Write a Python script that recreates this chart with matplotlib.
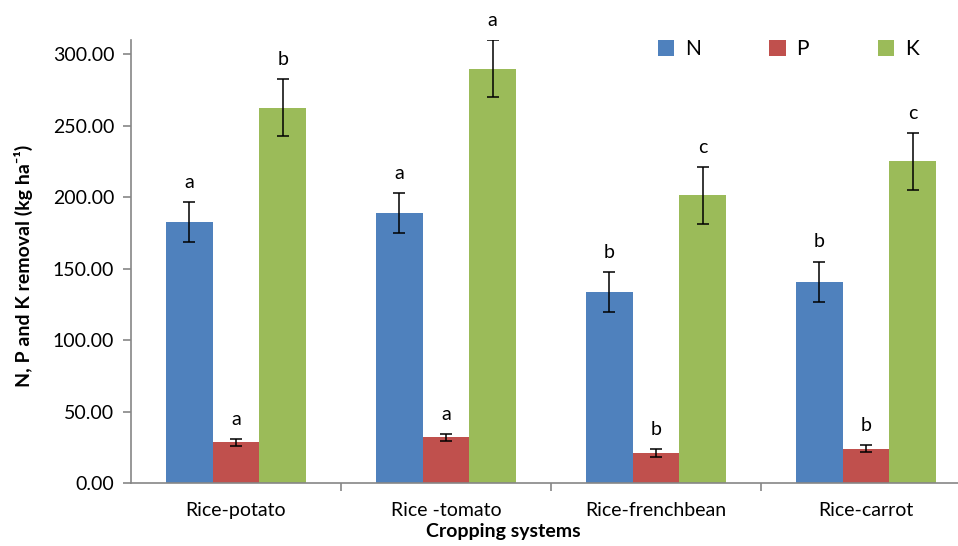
import matplotlib.pyplot as plt
import numpy as np

plt.rcParams['font.family'] = ['Lato', 'DejaVu Sans']

# ---------------- Data ----------------
systems = ["Rice-potato", "Rice -tomato", "Rice-frenchbean", "Rice-carrot"]
n_vals = [182.7, 189.0, 133.5, 141.0]
p_vals = [28.5, 32.0, 21.0, 24.0]
k_vals = [262.7, 290.0, 201.4, 225.0]
n_err = [14, 14, 14, 14]
p_err = [2.5, 2.5, 2.5, 2.5]
k_err = [20, 20, 20, 20]
n_letters = ["a", "a", "b", "b"]
p_letters = ["a", "a", "b", "b"]
k_letters = ["b", "a", "c", "c"]

series = [
    ("N", n_vals, n_err, n_letters, "#4F81BD"),
    ("P", p_vals, p_err, p_letters, "#C0504D"),
    ("K", k_vals, k_err, k_letters, "#9BBB59"),
]

# ---------------- Plot ----------------
fig = plt.figure(figsize=(9.58, 5.46), dpi=100)
ax = fig.add_axes([131 / 958, 1 - 483 / 546, 827 / 958, 443 / 546])

x = np.arange(len(systems))
width = 2 / 9  # gap width 50%
axis_grey = "#868686"

for i, (name, vals, errs, letters, color) in enumerate(series):
    pos = x + (i - 1) * width
    ax.bar(pos, vals, width, color=color, label=name, zorder=2)
    ax.errorbar(pos, vals, yerr=errs, fmt="none", ecolor="black",
                elinewidth=1.1, capsize=4, capthick=1.1, zorder=3)
    for px, v, e, t in zip(pos, vals, errs, letters):
        ax.annotate(t, (px, v + e), xytext=(0, 8), textcoords="offset points",
                    ha="center", va="bottom", fontsize=14)

ax.set_ylim(0, 310)
ax.set_xlim(-0.5, -0.5 + 827 / 210)
ax.set_yticks(np.arange(0, 301, 50))
ax.set_yticklabels([f"{v:.2f}" for v in np.arange(0, 301, 50)], fontsize=14)

ax.set_xticks(x)
ax.set_xticklabels(systems, fontsize=14)
ax.tick_params(axis="x", length=0, pad=14)
ax.set_xticks(np.arange(0.5, 3.5, 1), minor=True)
ax.tick_params(axis="x", which="minor", length=6, color=axis_grey, width=1.2)
ax.tick_params(axis="y", length=6, color=axis_grey, width=1.2, pad=6)

for side in ["top", "right"]:
    ax.spines[side].set_visible(False)
for side in ["left", "bottom"]:
    ax.spines[side].set_color(axis_grey)
    ax.spines[side].set_linewidth(1.2)

ax.set_xlabel("Cropping systems", fontsize=14, fontweight="bold")
ax.xaxis.set_label_coords(0.45, -0.09)
ax.set_ylabel("N, P and K removal (kg ha⁻¹)", fontsize=14, fontweight="bold")
ax.yaxis.set_label_coords(-0.118, 0.49)

ax.legend(loc="upper right", bbox_to_anchor=(0.975, 1.045), ncol=3, frameon=False,
          fontsize=15, handlelength=0.8, handleheight=0.8, handletextpad=0.5,
          columnspacing=3.3)

fig.savefig("out.png", dpi=100)
